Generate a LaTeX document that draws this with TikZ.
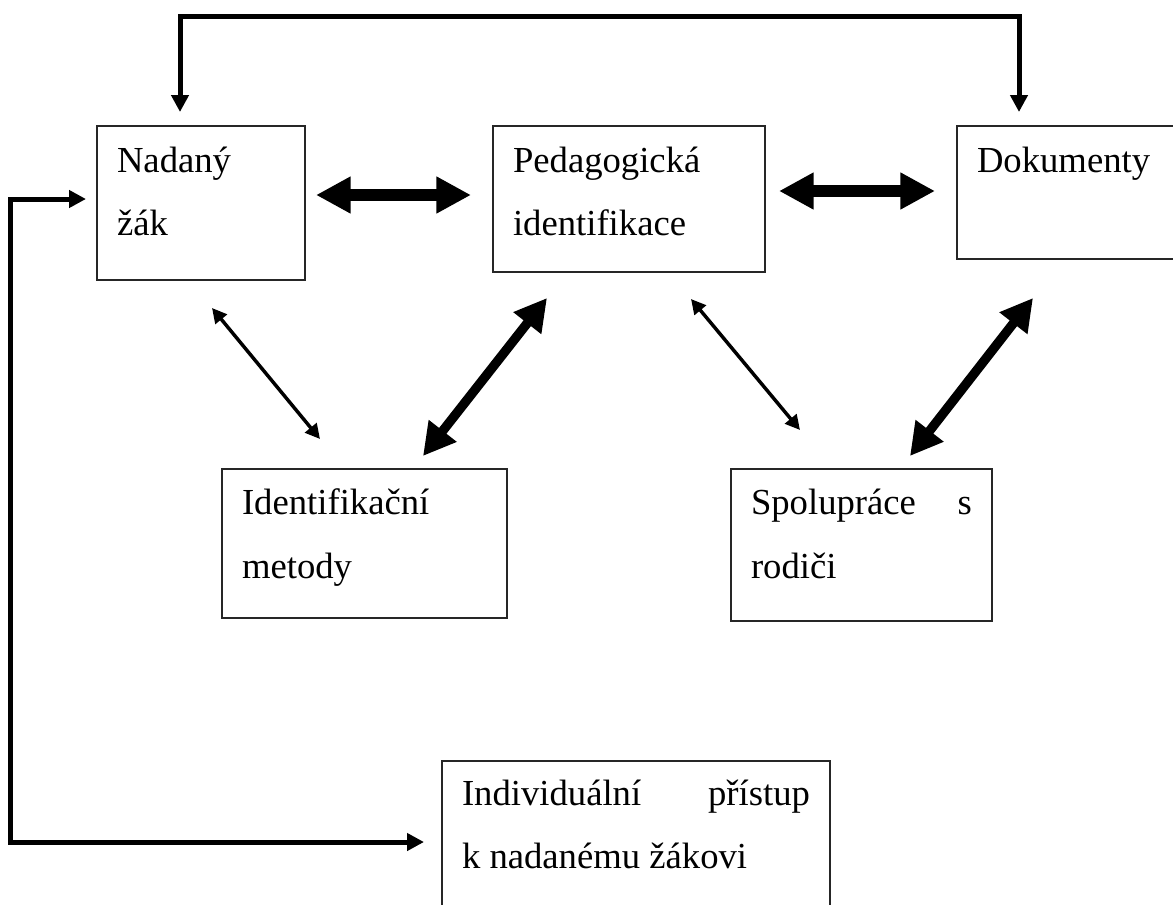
\documentclass[tikz,border=0pt]{standalone}
\usepackage{fontspec}
\setmainfont{Liberation Serif}
\usetikzlibrary{arrows.meta}
\begin{document}
\begin{tikzpicture}[x=0.75pt,y=-0.75pt,
  box/.style={draw=black!85, line width=0.9pt, rectangle, inner sep=0pt, outer sep=0pt},
  txt/.style={anchor=base west, inner sep=0pt, outer sep=0pt, font=\fontsize{27.5}{33}\selectfont},
  bigdbl/.style={line width=9pt, {Triangle[length=26pt,width=26pt]}-{Triangle[length=26pt,width=26pt]}},
  diagdbl/.style={line width=7pt, {Triangle[length=24pt,width=25pt]}-{Triangle[length=24pt,width=25pt]}},
  thindbl/.style={line width=2.6pt, {Triangle[length=11pt,width=11pt]}-{Triangle[length=11pt,width=11pt]}},
  fbline/.style={line width=3.75pt, line join=miter, {Triangle[length=12.75pt,width=12.75pt]}-{Triangle[length=12.75pt,width=12.75pt]}}
]
\useasboundingbox (0,0) rectangle (1173,904);

% boxes
\node[box, minimum width=156pt, minimum height=115.5pt] (nad) at (201,203) {};
\node[box, minimum width=204pt, minimum height=109.5pt] (ped) at (629,199) {};
\node[box, minimum width=171pt, minimum height=99.75pt] (dok) at (1071,192.5) {};
\node[box, minimum width=213.75pt, minimum height=111.75pt] (ide) at (364.5,543.5) {};
\node[box, minimum width=195.75pt, minimum height=114pt] (spo) at (861.5,545) {};
\node[box, minimum width=291pt, minimum height=141.75pt] (ind) at (636,855.5) {};

% texts
\node[txt] (nad1) at (117,172) {Nadaný};
\node[txt] (nad2) at (117,235) {žák};
\node[txt] (ped1) at (513,172) {Pedagogická};
\node[txt] (ped2) at (513,235) {identifikace};
\node[txt] (dok1) at (977,172) {Dokumenty};
\node[txt] (ide1) at (242,514) {Identifikační};
\node[txt] (ide2) at (242,578) {metody};
\node[txt] (spo1) at (751,514) {\makebox[165.75pt][s]{Spolupráce\hfill s}};
\node[txt] (spo2) at (751,578) {rodiči};
\node[txt] (ind1) at (462,805) {\makebox[261pt][s]{Individuální\hfill přístup}};
\node[txt] (ind2) at (462,868) {k nadanému žákovi};

% connector end points
\coordinate (h1a) at (316,195);
\coordinate (h1b) at (471,195);
\coordinate (h2a) at (779,191);
\coordinate (h2b) at (935,191);
\coordinate (d1a) at (212,308);
\coordinate (d1b) at (320,439);
\coordinate (d2a) at (423,456);
\coordinate (d2b) at (547,298);
\coordinate (d3a) at (691,299);
\coordinate (d3b) at (800,430);
\coordinate (d4a) at (910,456);
\coordinate (d4b) at (1033,298);
\coordinate (tA) at (180,112);
\coordinate (tB) at (1019,112);
\coordinate (lA) at (86,199);
\coordinate (lB) at (424,842);

% connectors
\draw[bigdbl] (h1a) -- (h1b);
\draw[bigdbl] (h2a) -- (h2b);
\draw[thindbl] (d1a) -- (d1b);
\draw[diagdbl] (d2a) -- (d2b);
\draw[thindbl] (d3a) -- (d3b);
\draw[diagdbl] (d4a) -- (d4b);
\draw[fbline] (tA) -- (180,16) -- (1019,16) -- (tB);
\draw[fbline] (lA) -- (10,199) -- (10,842) -- (lB);
\end{tikzpicture}
\end{document}
